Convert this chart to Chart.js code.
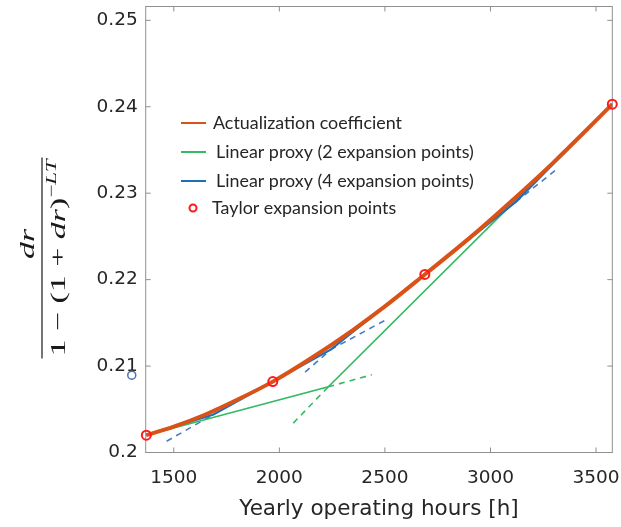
<!DOCTYPE html>
<html><head><meta charset="utf-8">
<script src="https://cdn.jsdelivr.net/npm/chart.js@4.4.1/dist/chart.umd.min.js"></script>
<style>html,body{margin:0;padding:0;background:#fff;}canvas{display:block;}</style>
</head><body>
<canvas id="c" width="621" height="527"></canvas>
<script>
// ---- data ----
const hours = [1370, 1500, 1650, 1800, 1969, 2150, 2350, 2500, 2689, 2900, 3100, 3300, 3450, 3577];
const actualization = [0.2020, 0.2030, 0.2044, 0.2061, 0.2082, 0.2109, 0.2142, 0.2169, 0.2206, 0.2248, 0.2291, 0.2336, 0.2372, 0.2403];

const expansionHours = [1370, 1969, 2689, 3577];
const expansionValues = [0.2020, 0.2082, 0.2206, 0.2403];

const proxy2Hours = [1370, 2232, 3577];
const proxy2Values = [0.2020, 0.2076, 0.2403];
const proxy2ExtAHours = [2232, 2438];
const proxy2ExtAValues = [0.2076, 0.2090];
const proxy2ExtBHours = [2066, 2232];
const proxy2ExtBValues = [0.2034, 0.2076];

const proxy4Hours = [1370, 1688, 2243, 3120, 3577];
const proxy4Values = [0.2020, 0.2044, 0.2119, 0.2290, 0.2403];
const proxy4Ext1Hours = [1466, 1688];
const proxy4Ext1Values = [0.2013, 0.2044];
const proxy4Ext2Hours = [2122, 2243];
const proxy4Ext2Values = [0.2093, 0.2119];
const proxy4Ext3Hours = [2243, 2501];
const proxy4Ext3Values = [0.2119, 0.2153];
const proxy4Ext4Hours = [3120, 3321];
const proxy4Ext4Values = [0.2290, 0.2329];

const strayHours = [1301];
const strayValues = [0.20895];

const xTicks = [1500, 2000, 2500, 3000, 3500];
const yTicks = [0.20, 0.21, 0.22, 0.23, 0.24, 0.25];
const xRange = [1367, 3577];
const yRange = [0.20, 0.2516];

const legendLabels = ['Actualization coefficient', 'Linear proxy (2 expansion points)', 'Linear proxy (4 expansion points)', 'Taylor expansion points'];
const xTitle = 'Yearly operating hours [h]';

// ---- styles ----
const ORANGE = '#D95319', GREEN = '#34BA62', BLUE = '#1F6FB8', BLUE_D = '#4A7CC0', RED = '#FF1A1A';
const pts = (xs, ys) => xs.map((v, i) => ({x: v, y: ys[i]}));
const dashed = (xs, ys, color) => ({data: pts(xs, ys), borderColor: color, borderWidth: 1.6, borderDash: [6, 5], pointRadius: 0, fill: false});

const boxPlugin = {
  id: 'box',
  beforeDatasetsDraw(chart) {
    const {ctx, chartArea: a, scales: {x, y}} = chart;
    ctx.save();
    ctx.strokeStyle = '#8f8f8f'; ctx.lineWidth = 1;
    ctx.strokeRect(a.left, a.top, a.right - a.left, a.bottom - a.top);
    ctx.beginPath();
    xTicks.forEach(v => { const p = x.getPixelForValue(v); ctx.moveTo(p, a.bottom); ctx.lineTo(p, a.bottom - 5); ctx.moveTo(p, a.top); ctx.lineTo(p, a.top + 5); });
    yTicks.forEach(v => { const p = y.getPixelForValue(v); ctx.moveTo(a.left, p); ctx.lineTo(a.left + 5, p); ctx.moveTo(a.right, p); ctx.lineTo(a.right - 5, p); });
    ctx.stroke();
    ctx.restore();
  },
  afterDraw(chart) {
    const {ctx, scales: {x, y}} = chart;
    ctx.save();
    ctx.strokeStyle = '#4A6FB5'; ctx.lineWidth = 1.5;
    strayHours.forEach((h, i) => {
      ctx.beginPath();
      ctx.arc(x.getPixelForValue(h), y.getPixelForValue(strayValues[i]), 4, 0, Math.PI * 2);
      ctx.stroke();
    });
    ctx.restore();
  }
};

const legendPlugin = {
  id: 'customLegend',
  afterDraw(chart) {
    const ctx = chart.ctx;
    ctx.save();
    const font = '17px Lato';
    ctx.font = font;
    const sx = 189 / ctx.measureText(legendLabels[0]).width;
    const rows = [
      {y: 123, kind: 'line', color: ORANGE, tx: 213},
      {y: 152, kind: 'line', color: GREEN, tx: 216},
      {y: 181, kind: 'line', color: BLUE, tx: 216},
      {y: 208, kind: 'mark', color: RED, tx: 212}
    ];
    rows.forEach((r, i) => {
      if (r.kind === 'line') {
        ctx.strokeStyle = r.color; ctx.lineWidth = 2;
        ctx.beginPath(); ctx.moveTo(181, r.y); ctx.lineTo(206, r.y); ctx.stroke();
      } else {
        ctx.strokeStyle = r.color; ctx.lineWidth = 2;
        ctx.beginPath(); ctx.arc(193, r.y, 3.5, 0, Math.PI * 2); ctx.stroke();
      }
      ctx.save();
      ctx.translate(r.tx, r.y);
      ctx.scale(sx, 1);
      ctx.fillStyle = '#262626';
      ctx.font = font;
      ctx.textBaseline = 'middle';
      ctx.textAlign = 'left';
      ctx.fillText(legendLabels[i], 0, 1);
      ctx.restore();
    });
    ctx.restore();
  }
};

const yLabelPlugin = {
  id: 'yLabel',
  afterDraw(chart) {
    const ctx = chart.ctx;
    ctx.save();
    ctx.translate(42, 258);
    ctx.rotate(-Math.PI / 2);
    ctx.fillStyle = '#1a1a1a'; ctx.strokeStyle = '#1a1a1a';
    ctx.textBaseline = 'alphabetic'; ctx.textAlign = 'left';
    const up = '22px "Liberation Serif"', it = 'italic 22px "Liberation Serif"';
    const sup = '15px "Liberation Serif"', supIt = 'italic 15px "Liberation Serif"';
    const den = [
      {t: '1', f: up}, {t: ' \u2212 ', f: up}, {t: '(1 + ', f: up}, {t: 'dr', f: it}, {t: ')', f: up},
      {t: '\u2212', f: sup, s: true}, {t: 'LT', f: supIt, s: true}
    ];
    let W = 0;
    den.forEach(p => { ctx.font = p.f; p.w = ctx.measureText(p.t).width; W += p.w; });
    const target = 197;
    const sx = target / W;
    ctx.lineWidth = 1.2;
    ctx.beginPath(); ctx.moveTo(-target / 2 - 2, 0); ctx.lineTo(target / 2 + 2, 0); ctx.stroke();
    ctx.save();
    ctx.translate(-target / 2, 0);
    ctx.scale(sx, 1);
    let u = 0;
    den.forEach(p => { ctx.font = p.f; ctx.fillText(p.t, u, p.s ? 14 : 23); u += p.w; });
    ctx.restore();
    ctx.font = it;
    const nw = ctx.measureText('dr').width;
    ctx.save();
    ctx.translate(14, 0);
    ctx.scale(sx, 1);
    ctx.fillText('dr', -nw / 2, -8);
    ctx.restore();
    ctx.restore();
  }
};

const tickFont = {family: 'DejaVu Sans', size: 18.5};

new Chart(document.getElementById('c'), {
  type: 'line',
  data: {
    datasets: [
      {data: pts(expansionHours, expansionValues), showLine: false, pointRadius: 4.5, pointBorderWidth: 2, pointBorderColor: RED, pointBackgroundColor: 'rgba(0,0,0,0)', borderColor: RED, clip: false},
      {data: pts(hours, actualization), borderColor: ORANGE, borderWidth: 4, pointRadius: 0, cubicInterpolationMode: 'monotone', fill: false},
      {data: pts(proxy4Hours, proxy4Values), borderColor: BLUE, borderWidth: 2.2, pointRadius: 0, fill: false},
      {data: pts(proxy2Hours, proxy2Values), borderColor: GREEN, borderWidth: 1.6, pointRadius: 0, fill: false},
      dashed(proxy2ExtAHours, proxy2ExtAValues, GREEN),
      dashed(proxy2ExtBHours, proxy2ExtBValues, GREEN),
      dashed(proxy4Ext1Hours, proxy4Ext1Values, BLUE_D),
      dashed(proxy4Ext2Hours, proxy4Ext2Values, BLUE_D),
      dashed(proxy4Ext3Hours, proxy4Ext3Values, BLUE_D),
      dashed(proxy4Ext4Hours, proxy4Ext4Values, BLUE_D)
    ]
  },
  options: {
    responsive: false,
    animation: false,
    devicePixelRatio: 1,
    layout: {padding: {left: 0, right: 8.7, top: 5.5, bottom: 0}},
    plugins: {legend: {display: false}, tooltip: {enabled: false}},
    scales: {
      x: {
        type: 'linear', min: xRange[0], max: xRange[1],
        grid: {display: false, drawTicks: false}, border: {display: false},
        afterBuildTicks: s => { s.ticks = xTicks.map(v => ({value: v})); },
        afterFit: s => { s.height = 74.5; s.paddingLeft = 0; s.paddingRight = 0; },
        ticks: {font: tickFont, color: '#262626', padding: 15, maxRotation: 0, callback: v => String(v)},
        title: {display: true, text: xTitle, font: {family: 'DejaVu Sans', size: 21.5}, color: '#262626', padding: {top: 2, bottom: 5}}
      },
      y: {
        type: 'linear', min: yRange[0], max: yRange[1],
        grid: {display: false, drawTicks: false}, border: {display: false},
        afterBuildTicks: s => { s.ticks = yTicks.map(v => ({value: v})); },
        afterFit: s => { s.width = 145.7; s.paddingTop = 0; s.paddingBottom = 0; },
        ticks: {font: tickFont, color: '#262626', padding: 8, callback: v => String(Number(v.toFixed(2)))}
      }
    }
  },
  plugins: [boxPlugin, legendPlugin, yLabelPlugin]
});
</script>
</body></html>
